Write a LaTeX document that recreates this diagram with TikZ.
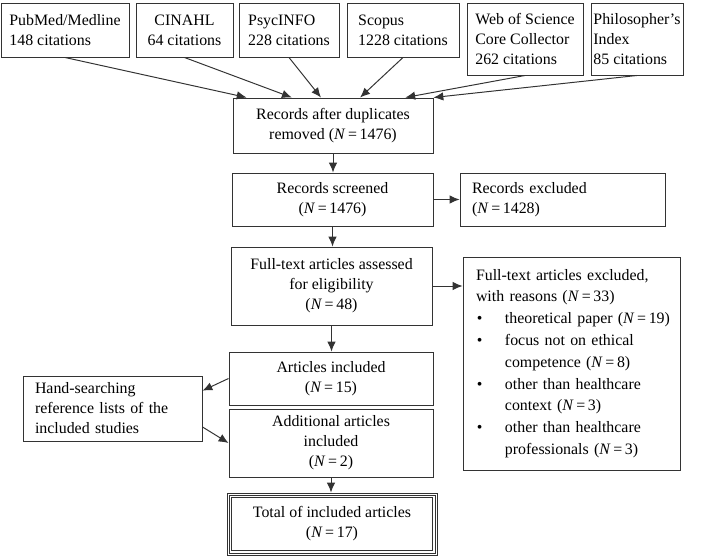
\documentclass[tikz,border=0pt]{standalone}
\usepackage{fontspec}
\setmainfont{Liberation Serif}
\usetikzlibrary{arrows.meta}
\usetikzlibrary{calc}
\tikzset{>={Latex[length=7pt,width=6pt]}}
\colorlet{linecol}{black!80}
\def\px{0.025cm} % one pixel of the layout
\newcommand{\Nis}[1]{(\textit{N}\,=\,#1)}
\newcommand{\itm}[1]{\mbox{\makebox[20.6pt][l]{\hspace{0.6pt}\textbullet}#1}}
\newcommand{\cnt}[1]{\mbox{\hspace*{20.6pt}#1}}
\tikzset{
  box/.style 2 args={draw=linecol,line width=0.7pt,inner sep=0pt,align=left,
                     minimum width=#1*\px,minimum height=#2*\px,
                     font=\fontsize{11.3pt}{14.2pt}\selectfont},
  textbox/.style={text width=#1*\px,align=left},
  arr/.style={->,draw=linecol,line width=0.7pt}}

\begin{document}
\begin{tikzpicture}[x=\px,y=-\px]
  \useasboundingbox (0,0) rectangle (709,556);
  
  % SOURCES
  \node[box={128}{54}] (pubmed) at (65,30) {PubMed/Medline\\148 citations};
  \node[box={97}{54},align=center] (cinahl) at (184.5,30) {CINAHL\\64 citations};
  \node[box={100}{54}] (psyc) at (289,30) {PsycINFO\\228 citations};
  \node[box={112}{54}] (scopus) at (403,30) {Scopus\\1228 citations};
  \node[box={116}{72}] (wos) at (525,39) {Web of Science\\Core Collector\\262 citations};
  \node[box={92}{72}] (philo) at (637,39) {Philosopher's\\Index\\85 citations};
  
  % MAIN COLUMN
  \node[box={200}{55},align=center] (dup) at (333,125.5) {Records after duplicates\\removed \Nis{1476}};
  \node[box={201}{53},align=center] (screen) at (332.5,199.5) {Records screened\\\Nis{1476}};
  \node[box={201}{78},align=center] (assess) at (331.5,286) {Full-text articles assessed\\for eligibility\\\Nis{48}};
  \node[box={204}{53},align=center] (incl) at (331,378.5) {Articles included\\\Nis{15}};
  \node[box={204}{68},align=center] (addl) at (331,443) {Additional articles\\included\\\Nis{2}};
  \node[box={210}{62},align=center] (total) at (332,524) {Total of included articles\\\Nis{17}};
  \draw[linecol,line width=0.7pt] ([shift={(2.5,2.5)}]total.north west) rectangle ([shift={(-2.5,-2.5)}]total.south east);
  \draw[linecol,line width=0.7pt] ([shift={(5,5)}]total.north west) rectangle ([shift={(-5,-5)}]total.south east);
  
  % SIDE BOXES
  \node[box={205}{53},textbox={181}] (recexcl) at (562.5,199.5) {Records excluded\\\Nis{1428}};
  \node[box={217}{213},textbox={191},font=\fontsize{11.3pt}{15.5pt}\selectfont] (ftexcl) at (571.5,363.5)
    {Full-text articles excluded,\\with reasons \Nis{33}\\
     \itm{theoretical paper \Nis{19}}\\
     \itm{focus not on ethical}\\\cnt{competence \Nis{8}}\\
     \itm{other than healthcare}\\\cnt{context \Nis{3}}\\
     \itm{other than healthcare}\\\cnt{professionals \Nis{3}}};
  \node[box={179}{65},textbox={155}] (hand) at (112.5,408.5) {Hand-searching\\reference lists of the\\included studies};
  
  % ARROWS
  \draw[arr] (pubmed.south) -- ($(dup.north west)!0.07!(dup.north east)$);
  \draw[arr] (cinahl.south) -- ($(dup.north west)!0.295!(dup.north east)$);
  \draw[arr] (psyc.south) -- ($(dup.north west)!0.44!(dup.north east)$);
  \draw[arr] (scopus.south) -- ($(dup.north west)!0.635!(dup.north east)$);
  \draw[arr] (wos.south) -- ($(dup.north west)!0.86!(dup.north east)$);
  \draw[arr] (philo.south) -- (dup.north east);
  \draw[arr] (dup.south) -- (dup.south |- screen.north);
  \draw[arr] (screen.east) -- (recexcl.west);
  \draw[arr] (screen.south) -- (screen.south |- assess.north);
  \draw[arr] (assess.east) -- (assess.east -| ftexcl.west);
  \draw[arr] (assess.south) -- (assess.south |- incl.north);
  \draw[arr] (incl.west) -- ($(hand.north east)!0.23!(hand.south east)$);
  \draw[arr] ($(hand.north east)!0.78!(hand.south east)$) -- (addl.west);
  \draw[arr] (addl.south) -- (addl.south |- total.north);
  
\end{tikzpicture}
\end{document}
